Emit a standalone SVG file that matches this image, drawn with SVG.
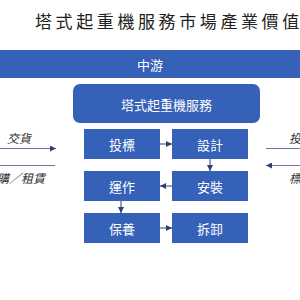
<svg xmlns="http://www.w3.org/2000/svg" width="300" height="300" viewBox="0 0 300 300">
<defs>
<style>
.box{fill:#3561B8;}
.bt{fill:#ffffff;font-family:"Noto Sans CJK TC","Noto Sans CJK SC",sans-serif;font-size:13px;text-anchor:middle;dominant-baseline:central;}
.lbl{fill:#333333;font-family:"Noto Sans CJK TC",sans-serif;font-size:12px;font-style:italic;}
.ln{stroke:#2E3F73;stroke-width:1;fill:none;}
.side{stroke:#6A78A8;stroke-width:1.2;fill:none;}
</style>
<marker id="ah" viewBox="0 0 10 10" refX="10" refY="5" markerWidth="6" markerHeight="6" orient="auto-start-reverse" markerUnits="userSpaceOnUse">
<path d="M0,0 L10,5 L0,10 Z" fill="#2E3F73"/>
</marker>
</defs>
<rect width="300" height="300" fill="#ffffff"/>
<text x="35" y="27.5" font-family="Noto Sans CJK TC, sans-serif" font-size="17" letter-spacing="3.6" fill="#222222">塔式起重機服務市場產業價值</text>
<g id="band">
<rect class="box" x="0" y="50" width="300" height="28"/>
<text class="bt" x="150" y="64.5" font-size="12">中游</text>
</g>
<g id="service">
<rect class="box" x="73" y="84" width="187" height="39" rx="7"/>
<text class="bt" x="166.5" y="104">塔式起重機服務</text>
</g>
<g id="n1"><rect class="box" x="84" y="129" width="76" height="30"/><text class="bt" x="122" y="144">投標</text></g>
<g id="n2"><rect class="box" x="172" y="129" width="76" height="30"/><text class="bt" x="210" y="144">設計</text></g>
<g id="n3"><rect class="box" x="84" y="171" width="76" height="30"/><text class="bt" x="122" y="186">運作</text></g>
<g id="n4"><rect class="box" x="172" y="171" width="76" height="30"/><text class="bt" x="210" y="186">安裝</text></g>
<g id="n5"><rect class="box" x="84" y="213" width="76" height="30"/><text class="bt" x="122" y="228">保養</text></g>
<g id="n6"><rect class="box" x="172" y="213" width="76" height="30"/><text class="bt" x="210" y="228">拆卸</text></g>
<g id="connectors">
<line class="ln" x1="160" y1="144" x2="172" y2="144" marker-end="url(#ah)"/>
<line class="ln" x1="210" y1="159" x2="210" y2="171" marker-end="url(#ah)"/>
<line class="ln" x1="172" y1="186" x2="160" y2="186" marker-end="url(#ah)"/>
<line class="ln" x1="121" y1="201" x2="121" y2="213" marker-end="url(#ah)"/>
<line class="ln" x1="160" y1="228" x2="172" y2="228" marker-end="url(#ah)"/>
<line class="side" x1="0" y1="148.5" x2="56" y2="148.5" marker-end="url(#ah)"/>
<line class="side" x1="0" y1="165.5" x2="55" y2="165.5"/>
<line class="side" x1="266" y1="148.5" x2="300" y2="148.5"/>
<line class="side" x1="300" y1="165.5" x2="266" y2="165.5" marker-end="url(#ah)"/>
</g>
<text class="lbl" x="7" y="143">交貨</text>
<text class="lbl" x="-3" y="183">購／租賃</text>
<text class="lbl" x="289" y="143">投</text>
<text class="lbl" x="289" y="183">標</text>
</svg>
